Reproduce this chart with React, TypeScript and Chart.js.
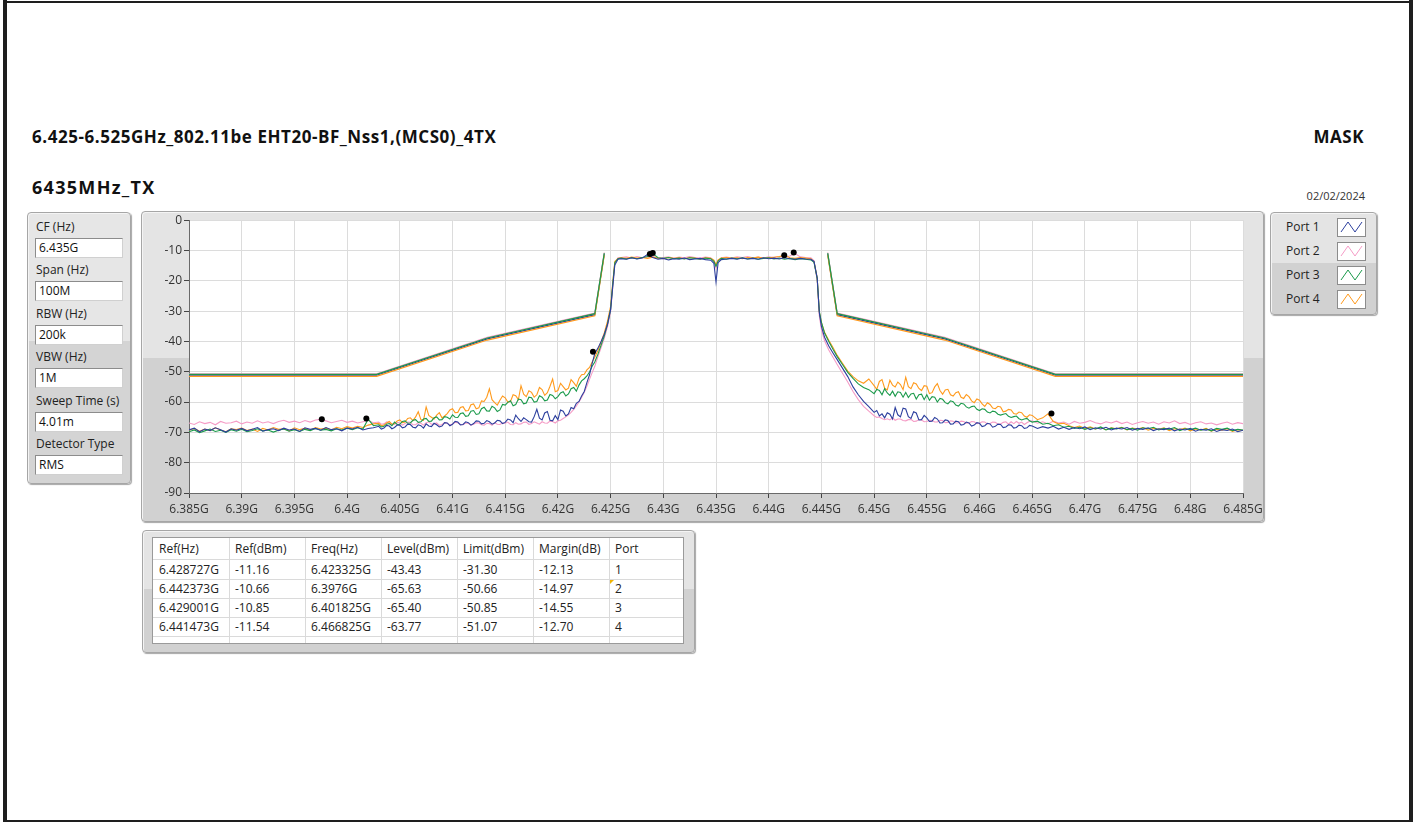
import React, { useEffect, useRef } from 'react';
import { Chart, registerables } from 'chart.js';

Chart.register(...registerables);

const FONT = '"Open Sans", "Noto Sans", sans-serif';

// ---- Sweep frequencies (MHz) ----
const FREQ_MHZ = [
  // S1 6385 - 6402.5 (0.5 MHz)
  6385, 6385.5, 6386, 6386.5, 6387, 6387.5, 6388, 6388.5, 6389, 6389.5,
  6390, 6390.5, 6391, 6391.5, 6392, 6392.5, 6393, 6393.5, 6394, 6394.5,
  6395, 6395.5, 6396, 6396.5, 6397, 6397.5, 6398, 6398.5, 6399, 6399.5,
  6400, 6400.5, 6401, 6401.5, 6402, 6402.5,
  // S2 6403 - 6409.75 (0.25 MHz)
  6403, 6403.25, 6403.5, 6403.75, 6404, 6404.25, 6404.5, 6404.75,
  6405, 6405.25, 6405.5, 6405.75, 6406, 6406.25, 6406.5, 6406.75,
  6407, 6407.25, 6407.5, 6407.75, 6408, 6408.25, 6408.5, 6408.75,
  6409, 6409.25, 6409.5, 6409.75,
  // S3 6410 - 6414.75
  6410, 6410.25, 6410.5, 6410.75, 6411, 6411.25, 6411.5, 6411.75,
  6412, 6412.25, 6412.5, 6412.75, 6413, 6413.25, 6413.5, 6413.75,
  6414, 6414.25, 6414.5, 6414.75,
  // S4 6415 - 6419.75
  6415, 6415.25, 6415.5, 6415.75, 6416, 6416.25, 6416.5, 6416.75,
  6417, 6417.25, 6417.5, 6417.75, 6418, 6418.25, 6418.5, 6418.75,
  6419, 6419.25, 6419.5, 6419.75,
  // S5 6420 - 6423.5
  6420, 6420.25, 6420.5, 6420.75, 6421, 6421.25, 6421.5, 6421.75,
  6422, 6422.25, 6422.5, 6422.75, 6423, 6423.25, 6423.5,
  // lower skirt
  6423.8, 6424.1, 6424.4, 6424.7, 6425.0, 6425.2, 6425.4, 6425.7,
  // passband lower half
  6426, 6426.5, 6427, 6427.5, 6428, 6428.5, 6429, 6429.5, 6430, 6430.5,
  6431, 6431.5, 6432, 6432.5, 6433, 6433.5, 6434, 6434.5,
  // DC notch
  6434.8, 6435.0, 6435.2,
  // passband upper half
  6435.5, 6436, 6436.5, 6437, 6437.5, 6438, 6438.5, 6439, 6439.5, 6440,
  6440.5, 6441, 6441.5, 6442, 6442.5, 6443, 6443.5, 6444,
  // upper skirt
  6444.3, 6444.6, 6444.8, 6445.0, 6445.3, 6445.7, 6446.1, 6446.5,
  // R-start 6447 - 6449.5
  6447, 6447.5, 6448, 6448.5, 6449, 6449.5,
  // R-mid 6450 - 6464.75 (0.25 MHz)
  6450, 6450.25, 6450.5, 6450.75, 6451, 6451.25, 6451.5, 6451.75,
  6452, 6452.25, 6452.5, 6452.75, 6453, 6453.25, 6453.5, 6453.75,
  6454, 6454.25, 6454.5, 6454.75, 6455, 6455.25, 6455.5, 6455.75,
  6456, 6456.25, 6456.5, 6456.75, 6457, 6457.25, 6457.5, 6457.75,
  6458, 6458.25, 6458.5, 6458.75, 6459, 6459.25, 6459.5, 6459.75,
  6460, 6460.25, 6460.5, 6460.75, 6461, 6461.25, 6461.5, 6461.75,
  6462, 6462.25, 6462.5, 6462.75, 6463, 6463.25, 6463.5, 6463.75,
  6464, 6464.25, 6464.5, 6464.75,
  // R-end 6465 - 6485 (0.5 MHz)
  6465, 6465.5, 6466, 6466.5, 6467, 6467.5, 6468, 6468.5, 6469, 6469.5,
  6470, 6470.5, 6471, 6471.5, 6472, 6472.5, 6473, 6473.5, 6474, 6474.5,
  6475, 6475.5, 6476, 6476.5, 6477, 6477.5, 6478, 6478.5, 6479, 6479.5,
  6480, 6480.5, 6481, 6481.5, 6482, 6482.5, 6483, 6483.5, 6484, 6484.5,
  6485,
];

// ---- Port 1 (blue) ----
const PORT1_DBM = [
  -69.2, -68.6, -69.8, -68.9, -69.4, -68.5, -69.1, -69.9, -68.8, -69.3,
  -68.7, -69.5, -69.0, -68.4, -69.6, -69.1, -68.8, -69.4, -68.6, -69.2,
  -68.9, -69.7, -68.5, -69.0, -68.7, -69.3, -68.4, -69.1, -68.8, -69.5,
  -68.6, -68.9, -68.3, -69.2, -68.7, -68.5,
  -68.0, -68.9, -68.6, -67.7, -67.9, -68.8, -68.4, -67.6, -67.6, -68.5, -68.2, -67.3, -67.4, -68.3,
  -68.5, -67.5, -67.8, -68.6, -67.2, -67.9, -68.1, -67.0, -67.5, -68.2, -67.9, -66.8, -66.9, -67.8,
  -67.3, -66.4, -66.6, -67.5, -67.4, -66.5, -66.8, -67.6, -67.1, -66.2,
  -66.3, -67.2, -67.0, -66.1, -66.5, -67.3, -66.9, -66.0, -66.2, -67.1,
  -66.7, -65.6, -65.9, -66.8, -64.3, -65.5, -66.4, -65.2, -65.8, -66.5,
  -66.6, -64.8, -62.4, -65.3, -65.9, -63.6, -63.1, -66.0, -66.2, -64.5,
  -65.8, -62.6, -63.0, -64.6, -63.9, -61.8, -62.2, -60.4, -59.8, -58.0, -56.5, -53.6, -51.0, -47.2, -44.0,
  -42.2, -40.0, -37.6, -34.5, -29.5, -22.0, -14.8, -12.9,
  -12.7, -12.9, -12.4, -12.8, -12.5, -11.3, -12.3, -12.9, -12.6, -13.1,
  -12.7, -12.9, -12.5, -13.0, -12.8, -12.6, -13.0, -13.2,
  -14.2, -20.4, -14.0,
  -13.0, -12.8, -12.6, -12.9, -12.5, -12.8, -12.6, -12.9, -12.4, -12.7,
  -12.5, -12.8, -12.4, -12.7, -12.9, -12.6, -12.8, -12.9,
  -13.6, -19.0, -30.5, -35.0, -38.6, -41.5, -43.8, -46.0,
  -48.8, -51.6, -55.0, -57.6, -59.8, -61.5,
  -63.4, -62.8, -64.6, -63.9, -65.2, -63.5, -64.0, -65.6,
  -61.8, -64.2, -64.9, -62.0, -62.3, -64.8, -65.4, -63.2,
  -63.6, -65.9, -65.8, -64.4, -65.2, -66.4, -66.3, -65.1,
  -65.6, -66.9, -66.8, -65.9, -66.1, -67.3, -67.2, -66.3,
  -66.5, -67.6, -67.4, -66.6, -66.9, -67.9, -67.6, -66.8,
  -67.0, -68.1, -67.8, -67.0, -67.2, -68.3, -68.0, -67.3,
  -67.4, -68.4, -68.2, -67.5, -67.6, -68.6, -68.4, -67.6,
  -67.8, -68.7, -68.5, -67.7,
  -67.9, -68.7, -68.1, -68.6, -68.0, -68.9, -68.3, -69.0, -68.4, -68.8,
  -68.2, -69.1, -68.5, -68.9, -68.3, -69.2, -68.6, -68.9, -68.4, -69.3,
  -68.7, -69.0, -68.5, -69.4, -68.8, -69.1, -68.6, -69.5, -68.9, -69.2,
  -68.7, -69.6, -69.0, -69.3, -68.8, -69.7, -69.1, -69.4, -68.9, -69.8,
  -69.3,
];

// ---- Port 2 (pink) ----
const PORT2_DBM = [
  -66.9, -67.4, -66.5, -67.1, -66.7, -67.5, -66.4, -67.0, -66.8, -66.3,
  -67.2, -66.6, -67.0, -66.2, -66.9, -66.5, -67.1, -66.4, -66.0, -66.7,
  -66.3, -66.8, -66.1, -66.6, -65.9, -65.7, -66.2, -66.8, -66.4, -66.0,
  -66.7, -66.3, -66.9, -66.5, -66.1, -66.8,
  -66.6, -67.3, -67.2, -66.5, -66.8, -67.5, -67.4, -66.7, -66.9, -67.6, -67.1, -66.6, -66.7, -67.5,
  -67.5, -66.8, -67.0, -67.6, -66.8, -66.5, -67.3, -67.2, -66.9, -67.7, -67.4, -66.8, -67.0, -67.6,
  -67.2, -66.7, -66.8, -67.4, -67.5, -66.9, -67.0, -67.6, -67.3, -66.8,
  -66.9, -67.5, -67.6, -67.0, -67.1, -67.7, -66.8, -67.3, -67.4, -66.9,
  -67.0, -66.6, -67.4, -67.5, -66.8, -67.3, -67.2, -66.7, -66.6, -67.4,
  -67.1, -66.5, -66.9, -67.3, -66.5, -66.9, -67.0, -66.3, -66.4, -66.9,
  -66.2, -66.0, -65.4, -64.9, -64.2, -63.4, -62.4, -61.3, -60.0, -58.5, -56.8, -54.8, -52.5, -50.3, -48.2,
  -45.0, -42.0, -39.0, -35.2, -30.2, -22.4, -14.2, -12.4,
  -12.3, -12.1, -12.5, -12.0, -12.4, -12.2, -12.0, -12.5, -12.3, -12.1,
  -12.6, -12.2, -12.4, -12.0, -12.3, -12.5, -12.2, -12.4,
  -13.4, -15.8, -13.2,
  -12.4, -12.2, -12.5, -12.1, -12.3, -12.0, -12.4, -12.2, -12.5, -12.1,
  -12.3, -12.0, -12.2, -11.8, -11.0, -12.1, -12.3, -12.4,
  -13.4, -19.8, -31.5, -36.0, -39.8, -42.8, -45.2, -47.6,
  -50.5, -53.4, -56.5, -59.2, -61.4, -63.0,
  -64.5, -65.1, -64.9, -65.4, -65.8, -65.5, -65.9, -65.2,
  -66.0, -65.6, -65.6, -66.1, -66.2, -65.8, -65.7, -66.4,
  -66.3, -65.8, -65.9, -66.5, -66.4, -66.0, -66.1, -66.6,
  -66.6, -66.0, -66.1, -66.8, -66.7, -66.2, -66.3, -66.9,
  -66.8, -66.3, -66.4, -67.0, -66.9, -66.4, -66.5, -67.1,
  -67.0, -66.5, -66.6, -67.2, -67.1, -66.6, -66.7, -67.3,
  -67.2, -66.7, -66.5, -67.3, -66.5, -67.1, -66.4, -67.0,
  -66.6, -67.4, -66.8, -66.3,
  -66.2, -67.0, -66.5, -67.2, -66.3, -66.9, -66.6, -67.3, -66.4, -67.0,
  -66.7, -66.1, -66.8, -67.2, -66.5, -66.9, -66.3, -67.1, -66.6, -67.4,
  -66.8, -66.4, -67.0, -66.6, -67.3, -66.5, -66.9, -66.2, -67.1, -66.7,
  -67.4, -66.8, -66.5, -67.2, -66.9, -67.5, -67.0, -66.6, -67.3, -66.8,
  -67.1,
];

// ---- Port 3 (green) ----
const PORT3_DBM = [
  -69.8, -69.2, -70.1, -69.5, -68.9, -69.7, -69.3, -70.0, -69.1, -69.6,
  -69.0, -69.8, -69.4, -68.8, -69.5, -69.2, -69.9, -69.3, -68.9, -69.6,
  -69.1, -69.7, -69.0, -69.4, -68.7, -69.3, -69.0, -69.5, -68.8, -69.2,
  -68.6, -69.1, -68.5, -68.9, -65.6, -67.8,
  -67.5, -68.2, -68.0, -67.3, -67.1, -67.8, -66.6, -67.4, -67.3, -66.4, -66.2, -67.0, -66.9, -66.0,
  -65.8, -66.7, -66.5, -65.6, -65.4, -66.4, -66.3, -65.2, -64.9, -65.9, -65.8, -64.8, -65.0, -65.6,
  -64.2, -65.0, -65.1, -63.8, -63.6, -64.7, -64.5, -63.0, -62.8, -64.1,
  -63.9, -62.2, -61.7, -62.9, -63.0, -61.4, -61.9, -63.1, -62.6, -60.8,
  -61.0, -60.1, -59.6, -61.2, -60.8, -59.0, -59.2, -60.6, -60.3, -58.4,
  -58.6, -60.0, -59.8, -57.9, -58.4, -59.6, -59.3, -57.5, -57.8, -58.9,
  -58.2, -57.0, -56.6, -58.0, -57.3, -55.6, -55.2, -56.4, -54.4, -53.0, -52.3, -51.4, -50.1, -48.2, -46.8,
  -44.2, -41.2, -38.2, -34.4, -29.4, -21.2, -14.0, -12.7,
  -12.5, -12.8, -12.4, -12.7, -12.3, -12.0, -11.0, -12.4, -12.6, -12.3,
  -12.7, -12.5, -12.8, -12.4, -12.6, -12.9, -12.5, -12.7,
  -13.6, -15.2, -13.5,
  -12.6, -12.9, -12.5, -12.7, -12.4, -12.8, -12.5, -12.9, -12.6, -12.4,
  -12.8, -12.5, -12.9, -12.6, -13.0, -12.7, -12.9, -13.1,
  -13.9, -19.2, -30.0, -33.6, -37.2, -40.0, -42.6, -45.0,
  -47.6, -50.2, -52.2, -54.0, -55.2, -55.9,
  -57.2, -55.8, -56.2, -57.6, -55.6, -57.0, -57.8, -56.4,
  -58.1, -56.6, -56.8, -58.4, -56.8, -58.5, -57.3, -57.1,
  -59.0, -57.6, -57.4, -59.2, -57.6, -59.4, -58.2, -58.4,
  -60.0, -58.8, -59.1, -60.2, -60.6, -59.6, -59.9, -61.0,
  -61.3, -60.4, -60.6, -61.6, -62.0, -61.5, -61.3, -62.4,
  -62.8, -62.2, -62.4, -63.3, -63.6, -63.0, -63.2, -64.0,
  -64.3, -64.0, -63.8, -64.7, -65.1, -64.8, -64.6, -65.5,
  -65.9, -65.6, -65.4, -66.2,
  -66.6, -66.3, -67.3, -67.0, -67.8, -67.5, -68.3, -68.0, -68.7, -68.3,
  -69.0, -68.5, -68.9, -68.2, -69.2, -68.6, -68.9, -68.4, -69.1, -68.7,
  -69.3, -68.5, -68.8, -68.3, -69.2, -68.7, -69.0, -68.4, -69.4, -68.8,
  -69.1, -68.6, -69.3, -68.9, -69.5, -68.7, -69.0, -68.6, -69.4, -69.0,
  -69.2,
];

// ---- Port 4 (orange) ----
const PORT4_DBM = [
  -69.3, -68.7, -69.6, -68.9, -69.4, -68.5, -69.2, -69.8, -68.8, -69.1,
  -68.6, -69.4, -68.9, -69.7, -68.7, -69.2, -68.4, -69.0, -68.8, -69.5,
  -68.5, -69.1, -68.7, -69.3, -68.4, -68.9, -68.6, -69.2, -68.3, -68.8,
  -68.1, -68.6, -68.0, -68.4, -67.6, -67.2,
  -67.0, -67.8, -67.6, -66.9, -66.4, -67.3, -67.1, -66.2, -65.9, -66.8, -66.6, -65.4, -65.2, -66.1,
  -64.9, -63.2, -65.8, -66.0, -61.6, -64.4, -65.0, -65.6, -64.3, -63.5, -65.2, -64.6, -63.8, -62.6,
  -62.2, -63.5, -63.4, -61.8, -61.5, -62.9, -62.8, -60.9, -60.6, -62.2,
  -61.9, -59.6, -59.8, -58.4, -55.6, -59.2, -60.2, -61.0, -59.4, -58.0,
  -58.6, -60.0, -59.8, -57.6, -57.9, -59.2, -54.6, -57.4, -58.2, -56.3,
  -56.8, -58.4, -57.6, -55.2, -55.9, -57.8, -56.9, -54.8, -52.4, -56.6,
  -56.2, -53.8, -54.9, -56.0, -55.4, -52.6, -53.6, -54.8, -52.2, -51.0, -50.8, -49.4, -48.6, -46.8, -45.2,
  -43.0, -40.2, -37.2, -33.4, -28.4, -20.6, -13.6, -12.6,
  -12.4, -12.6, -12.2, -12.5, -12.3, -12.6, -12.2, -12.5, -12.7, -12.3,
  -12.6, -12.4, -12.7, -12.3, -12.5, -12.8, -12.4, -12.6,
  -13.2, -14.6, -13.1,
  -12.5, -12.3, -12.6, -12.4, -12.7, -12.3, -12.5, -12.2, -12.6, -12.4,
  -12.2, -12.0, -11.6, -12.4, -12.6, -12.3, -12.5, -12.7,
  -13.7, -19.0, -30.2, -33.8, -37.0, -39.6, -42.0, -44.6,
  -47.2, -49.8, -51.6, -53.0, -53.8, -52.4,
  -54.6, -55.8, -53.2, -52.6, -55.4, -56.0, -52.8, -54.4,
  -55.0, -53.4, -54.2, -55.9, -51.8, -54.9, -55.6, -53.6,
  -54.0, -55.5, -56.2, -54.6, -54.8, -57.2, -56.9, -55.0,
  -53.9, -56.2, -57.4, -56.0, -55.8, -57.6, -58.0, -56.9,
  -56.6, -58.4, -58.8, -57.5, -58.2, -59.6, -60.2, -59.0,
  -59.4, -60.6, -61.4, -60.2, -60.8, -62.0, -62.2, -61.4,
  -61.6, -63.2, -63.0, -62.4, -62.6, -63.8, -64.0, -63.3,
  -63.5, -64.6, -65.0, -64.2,
  -64.4, -65.8, -65.2, -63.9, -66.4, -67.2, -67.0, -67.8, -68.4, -67.9,
  -68.7, -68.2, -68.9, -68.4, -69.1, -68.5, -68.8, -68.3, -69.2, -68.6,
  -68.9, -68.4, -69.3, -68.7, -69.0, -68.5, -69.4, -68.8, -69.1, -68.6,
  -69.5, -68.9, -69.2, -68.7, -69.6, -69.0, -69.3, -68.8, -69.7, -69.1,
  -69.4,
];

// ---- Limit masks (null breaks the line over the channel) ----
const MASK_FREQ_MHZ = [6385, 6402.8, 6413.3, 6423.5, 6424.4, 6435, 6445.6, 6446.5, 6456.7, 6467.2, 6485];
const MASK_PORT1 = [-51.16, -51.16, -39.16, -31.16, -11.16, null, -11.16, -31.16, -39.16, -51.16, -51.16];
const MASK_PORT2 = [-50.66, -50.66, -38.66, -30.66, -10.66, null, -10.66, -30.66, -38.66, -50.66, -50.66];
const MASK_PORT3 = [-50.85, -50.85, -38.85, -30.85, -10.85, null, -10.85, -30.85, -38.85, -50.85, -50.85];
const MASK_PORT4 = [-51.54, -51.54, -39.54, -31.54, -11.54, null, -11.54, -31.54, -39.54, -51.54, -51.54];

// ---- Markers ----
const PEAK_FREQ_MHZ = [6428.727, 6442.373, 6429.001, 6441.473];
const PEAK_DBM = [-11.16, -10.66, -10.85, -11.54];
const WORST_FREQ_MHZ = [6423.325, 6397.6, 6401.825, 6466.825];
const WORST_DBM = [-43.43, -65.63, -65.40, -63.77];

// ---- Table ----
const TABLE_HEADERS = ['Ref(Hz)', 'Ref(dBm)', 'Freq(Hz)', 'Level(dBm)', 'Limit(dBm)', 'Margin(dB)', 'Port'];
const TABLE_REF_HZ = ['6.428727G', '6.442373G', '6.429001G', '6.441473G'];
const TABLE_REF_DBM = ['-11.16', '-10.66', '-10.85', '-11.54'];
const TABLE_FREQ_HZ = ['6.423325G', '6.3976G', '6.401825G', '6.466825G'];
const TABLE_LEVEL = ['-43.43', '-65.63', '-65.40', '-63.77'];
const TABLE_LIMIT = ['-31.30', '-50.66', '-50.85', '-51.07'];
const TABLE_MARGIN = ['-12.13', '-14.97', '-14.55', '-12.70'];
const TABLE_PORT = ['1', '2', '3', '4'];

// ---- Settings panel ----
const SETTING_LABELS = ['CF (Hz)', 'Span (Hz)', 'RBW (Hz)', 'VBW (Hz)', 'Sweep Time (s)', 'Detector Type'];
const SETTING_VALUES = ['6.435G', '100M', '200k', '1M', '4.01m', 'RMS'];

// ---- Legend ----
const PORT_NAMES = ['Port 1', 'Port 2', 'Port 3', 'Port 4'];
const PORT_COLORS = ['#2c3f9e', '#f59cc6', '#1b9a4b', '#ff9a1c'];

const X_MIN = 6385;
const X_MAX = 6485;
const X_STEP = 5;
const Y_MIN = -90;
const Y_MAX = 0;
const Y_STEP = 10;

function panelBg(split: number, light = '#e4e4e4', dark = '#d2d2d2') {
  return `linear-gradient(to bottom, ${light} 0px, ${light} ${split}px, ${dark} ${split}px, ${dark} 100%)`;
}

const panelBase: React.CSSProperties = {
  position: 'absolute',
  boxSizing: 'border-box',
  border: '1px solid #a6a6a6',
  borderRadius: 4,
  boxShadow: '1px 1px 1px rgba(0,0,0,0.35), inset 1px 1px 0 #f4f4f4',
};

export default function App() {
  const canvasRef = useRef<HTMLCanvasElement | null>(null);

  useEffect(() => {
    const canvas = canvasRef.current;
    if (!canvas) return;
    const toXY = (ys: (number | null)[], xs: number[]) => xs.map((x, i) => ({ x, y: ys[i] }));

    const plotBg = {
      id: 'plotBg',
      beforeDraw(c: any) {
        const { ctx, chartArea: a } = c;
        ctx.save();
        ctx.fillStyle = '#ffffff';
        ctx.fillRect(a.left, a.top, a.right - a.left, a.bottom - a.top);
        ctx.restore();
      },
    };

    const traces = [PORT1_DBM, PORT2_DBM, PORT3_DBM, PORT4_DBM];
    const masks = [MASK_PORT1, MASK_PORT2, MASK_PORT3, MASK_PORT4];
    const traceOrder = [1, 4, 2, 3];
    const maskOrder = [8, 7, 5, 6];

    const datasets: any[] = [];
    datasets.push({
      label: 'markers',
      data: [...toXY(PEAK_DBM, PEAK_FREQ_MHZ), ...toXY(WORST_DBM, WORST_FREQ_MHZ)],
      showLine: false,
      pointRadius: 3,
      pointBackgroundColor: '#000',
      pointBorderColor: '#000',
      pointBorderWidth: 0,
      order: 0,
    });
    traces.forEach((t, i) => {
      datasets.push({
        label: PORT_NAMES[i],
        data: toXY(t, FREQ_MHZ),
        borderColor: PORT_COLORS[i],
        borderWidth: 1.1,
        pointRadius: 0,
        tension: 0,
        fill: false,
        order: traceOrder[i],
      });
    });
    masks.forEach((m, i) => {
      datasets.push({
        label: PORT_NAMES[i] + ' mask',
        data: toXY(m, MASK_FREQ_MHZ),
        borderColor: PORT_COLORS[i],
        borderWidth: 1.2,
        pointRadius: 0,
        tension: 0,
        spanGaps: false,
        fill: false,
        order: maskOrder[i],
      });
    });

    const tickFont = { family: FONT, size: 12 };
    const chart = new Chart(canvas, {
      type: 'line',
      data: { datasets },
      plugins: [plotBg],
      options: {
        animation: false,
        responsive: false,
        maintainAspectRatio: false,
        devicePixelRatio: 1,
        layout: { padding: { top: 9, right: 21, left: 0, bottom: 0 } },
        plugins: { legend: { display: false }, tooltip: { enabled: false }, title: { display: false } },
        scales: {
          x: {
            type: 'linear',
            min: X_MIN,
            max: X_MAX,
            afterFit: (s: any) => { s.height = 29; s.paddingLeft = 0; s.paddingRight = 0; },
            ticks: {
              stepSize: X_STEP,
              autoSkip: false,
              maxRotation: 0,
              minRotation: 0,
              padding: 4,
              color: '#333',
              font: tickFont,
              callback: (v: any) => `${+(Number(v) / 1000).toFixed(3)}G`,
            },
            grid: { color: '#dcdcdc', lineWidth: 1, tickColor: '#444', tickLength: 5, drawTicks: true },
            border: { color: '#6a6a6a', width: 1 },
          },
          y: {
            type: 'linear',
            min: Y_MIN,
            max: Y_MAX,
            afterFit: (s: any) => { s.width = 48; },
            ticks: {
              stepSize: Y_STEP,
              padding: 2,
              color: '#333',
              font: tickFont,
            },
            grid: { color: '#dcdcdc', lineWidth: 1, tickColor: '#444', tickLength: 5, drawTicks: true },
            border: { color: '#6a6a6a', width: 1 },
          },
        },
      } as any,
    });
    return () => chart.destroy();
  }, []);

  const text = (s: string, style: React.CSSProperties, key?: string) => (
    <div key={key} style={{ position: 'absolute', whiteSpace: 'nowrap', fontFamily: FONT, color: '#111', lineHeight: 1, ...style }}>{s}</div>
  );

  const colLefts = [153, 229, 305, 381, 457, 533, 609];
  const rowsData = TABLE_REF_HZ.map((_, i) => [
    TABLE_REF_HZ[i], TABLE_REF_DBM[i], TABLE_FREQ_HZ[i], TABLE_LEVEL[i], TABLE_LIMIT[i], TABLE_MARGIN[i], TABLE_PORT[i],
  ]);

  return (
    <div style={{ position: 'absolute', left: 0, top: 0, width: 1415, height: 822, background: '#fff', overflow: 'hidden', fontFamily: FONT }}>
      {/* page frame */}
      <div style={{ position: 'absolute', left: 3, top: 0, width: 4, height: 822, background: '#1e1e1e' }} />
      <div style={{ position: 'absolute', left: 1409, top: 0, width: 4, height: 822, background: '#1e1e1e' }} />
      <div style={{ position: 'absolute', left: 3, top: 1, width: 1410, height: 2, background: '#1e1e1e' }} />
      <div style={{ position: 'absolute', left: 3, top: 820, width: 1410, height: 2, background: '#1e1e1e' }} />

      {/* titles */}
      {text('6.425-6.525GHz_802.11be EHT20-BF_Nss1,(MCS0)_4TX', { left: 32, top: 128, fontSize: 17, fontWeight: 700, letterSpacing: '0.55px' })}
      {text('6435MHz_TX', { left: 32, top: 178, fontSize: 18, fontWeight: 700, letterSpacing: '1.3px' })}
      {text('MASK', { right: 1415 - 1364, top: 128, fontSize: 17, fontWeight: 700, letterSpacing: '0.55px' })}
      {text('02/02/2024', { right: 1415 - 1365, top: 190, fontSize: 11, color: '#333' })}

      {/* settings panel */}
      <div style={{ ...panelBase, left: 27, top: 212, width: 104, height: 272, background: panelBg(128, '#e6e6e6', '#d4d4d4') }} />
      {SETTING_LABELS.map((l, i) => (
        <React.Fragment key={l}>
          {text(l, { left: 36, top: 221 + i * 43.4, fontSize: 12, color: '#222' })}
          <div style={{ position: 'absolute', left: 35, top: 238 + i * 43.4, width: 88, height: 20, boxSizing: 'border-box', background: '#fff', border: '1px solid #8c8c8c', borderRightColor: '#d0d0d0', borderBottomColor: '#d0d0d0' }} />
          {text(SETTING_VALUES[i], { left: 39, top: 242 + i * 43.4, fontSize: 12, color: '#111' })}
        </React.Fragment>
      ))}

      {/* plot panel */}
      <div style={{ ...panelBase, left: 141, top: 211, width: 1123, height: 311, background: panelBg(146, '#e4e4e4', '#d1d1d1') }} />
      <canvas ref={canvasRef} width={1123} height={311} style={{ position: 'absolute', left: 141, top: 211, width: 1123, height: 311 }} />

      {/* legend panel */}
      <div style={{ ...panelBase, left: 1270, top: 212, width: 107, height: 103, background: panelBg(50, '#e4e4e4', '#d1d1d1') }} />
      {PORT_NAMES.map((n, i) => (
        <React.Fragment key={n}>
          {text(n, { left: 1286, top: 221 + i * 24, fontSize: 12, color: '#222' })}
          <svg style={{ position: 'absolute', left: 1337, top: 218 + i * 24, width: 29, height: 19 }} width={29} height={19}>
            <rect x={0.5} y={0.5} width={28} height={18} fill="#fff" stroke="#8c8c8c" />
            <polyline points="4,14 11,4 18,14 25,4" fill="none" stroke={PORT_COLORS[i]} strokeWidth={1} />
          </svg>
        </React.Fragment>
      ))}

      {/* table panel */}
      <div style={{ ...panelBase, left: 142, top: 530, width: 553, height: 123, background: panelBg(58, '#e4e4e4', '#d1d1d1') }} />
      <div style={{ position: 'absolute', left: 152, top: 537, width: 532, height: 107, boxSizing: 'border-box', background: '#fff', border: '1px solid #9a9a9a' }} />
      {colLefts.slice(1).map((x) => (
        <div key={'v' + x} style={{ position: 'absolute', left: x, top: 538, width: 1, height: 105, background: '#dadada' }} />
      ))}
      {[559, 579, 598, 617, 636].map((y) => (
        <div key={'h' + y} style={{ position: 'absolute', left: 153, top: y, width: 530, height: 1, background: '#dadada' }} />
      ))}
      {TABLE_HEADERS.map((h, c) => text(h, { left: colLefts[c] + 6, top: 543, fontSize: 12, color: '#222' }, 'h' + c))}
      {rowsData.map((row, r) =>
        row.map((v, c) => text(v, { left: colLefts[c] + 6, top: 564 + r * 19, fontSize: 12, color: '#222' }, r + '-' + c))
      )}
      <div style={{ position: 'absolute', left: 610, top: 580, width: 0, height: 0, borderTop: '4px solid #f2b400', borderRight: '4px solid transparent' }} />
    </div>
  );
}
